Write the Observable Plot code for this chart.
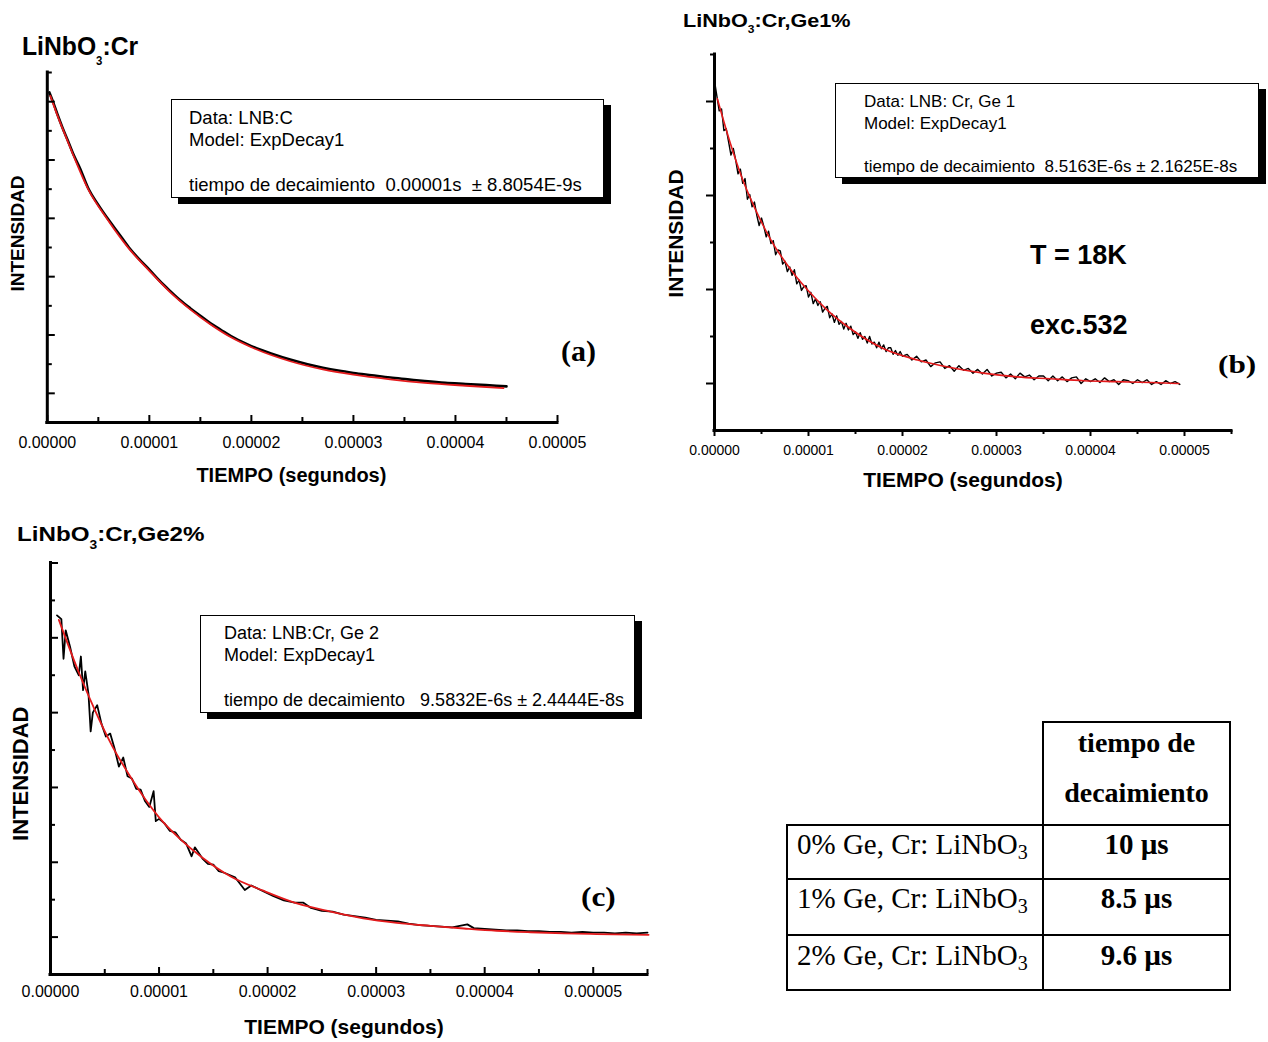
<!DOCTYPE html>
<html>
<head>
<meta charset="utf-8">
<script src="https://cdn.jsdelivr.net/npm/d3@7"></script>
<script src="https://cdn.jsdelivr.net/npm/@observablehq/plot@0.6"></script>
<style>
  body { margin: 0; background: #fff; }
  #page { position: relative; width: 1268px; height: 1042px; overflow: hidden; background: #fff; }
  #page svg { position: absolute; }
</style>
</head>
<body>
<div id="page"></div>
<script>
// ---- shared axis ticks (time in seconds, intensity in arbitrary units) ----
const xMajor = [0, 0.00001, 0.00002, 0.00003, 0.00004, 0.00005];
const xMinorA = [0.000005, 0.000015, 0.000025, 0.000035, 0.000045];
const xMinorBC = [0.000005, 0.000015, 0.000025, 0.000035, 0.000045, 0.000055];
const yMajorA = [0, 1, 2, 3, 4, 5];
const yMinorA = [0.5, 1.5, 2.5, 3.5, 4.5, 5.5];
const yMajorB = [0, 1, 2, 3];
const yMinorB = [0.5, 1.5, 2.5, 3.5];
const yMajorC = [0, 1, 2, 3, 4, 5];
const yMinorC = [0.5, 1.5, 2.5, 3.5, 4.5];

// ---- (a) LiNbO3:Cr : measured decay (µs) and ExpDecay1 fit ----
const dataA_t = [0.2, 0.6, 1.0, 1.5, 2.0, 2.6, 3.2, 4.0, 5.0, 5.9, 7.0, 8.0, 9.0, 10.0, 11.0, 12.0, 13.0, 14.0, 15.0, 16.0,
                 17.0, 18.0, 19.0, 20.0, 22.0, 23.8, 25.5, 27.0, 28.5, 30.0, 31.8, 33.6, 35.3, 37.0, 39.0, 41.0, 43.0, 45.0];
const dataA_v = [5.16, 4.98, 4.78, 4.55, 4.34, 4.08, 3.86, 3.52, 3.23, 3.00, 2.74, 2.50, 2.30, 2.12, 1.93, 1.76, 1.60, 1.46, 1.33, 1.20,
                 1.09, 0.98, 0.89, 0.81, 0.68, 0.58, 0.50, 0.44, 0.39, 0.35, 0.31, 0.27, 0.24, 0.21, 0.18, 0.16, 0.14, 0.12];
const fitA_t = [0.3, 1, 2, 2.6, 4, 5.9, 8, 10, 12, 14, 16, 18, 20, 23.8, 27, 30, 33.6, 37, 41, 44.7];
const fitA_v = [5.10, 4.76, 4.32, 4.06, 3.50, 2.98, 2.48, 2.10, 1.74, 1.44, 1.18, 0.96, 0.79, 0.55, 0.41, 0.32, 0.24, 0.18, 0.13, 0.09];

// ---- (b) LiNbO3:Cr,Ge1% ----
const dataB_t = [0, 0.25, 0.5, 0.75, 1, 1.25, 1.5, 1.75, 2, 2.25, 2.5, 2.75, 3, 3.25, 3.5, 3.75, 4, 4.25, 4.5, 4.75,
                 5, 5.25, 5.5, 5.75, 6, 6.25, 6.5, 6.75, 7, 7.25, 7.5, 7.75, 8, 8.25, 8.5, 8.75, 9, 9.25, 9.5, 9.75,
                 10, 10.25, 10.5, 10.75, 11, 11.25, 11.5, 11.75, 12, 12.25, 12.5, 12.75, 13, 13.25, 13.5, 13.75, 14, 14.25, 14.5, 14.75,
                 15, 15.25, 15.5, 15.75, 16, 16.25, 16.5, 16.75, 17, 17.25, 17.5, 17.75, 18, 18.25, 18.5, 18.75, 19, 19.25, 19.5, 19.75,
                 20, 20.5, 21, 21.5, 22, 22.5, 23, 23.5, 24, 24.5, 25, 25.5, 26, 26.5, 27, 27.5, 28, 28.5, 29, 29.5,
                 30, 30.5, 31, 31.5, 32, 32.5, 33, 33.5, 34, 34.5, 35, 35.5, 36, 36.5, 37, 37.5, 38, 38.5, 39, 39.5,
                 40, 40.5, 41, 41.5, 42, 42.5, 43, 43.5, 44, 44.5, 45, 45.5, 46, 46.5, 47, 47.5, 48, 48.5, 49, 49.5];
const dataB_v = [3.22, 3.06, 2.90, 2.92, 2.69, 2.71, 2.57, 2.43, 2.50, 2.38, 2.23, 2.28, 2.13, 2.18, 1.96, 2.01, 1.88, 1.93, 1.79, 1.68,
                 1.76, 1.67, 1.56, 1.62, 1.49, 1.52, 1.37, 1.42, 1.41, 1.27, 1.30, 1.19, 1.24, 1.15, 1.21, 1.06, 1.10, 0.99, 1.03, 1.04,
                 0.92, 0.97, 0.85, 0.90, 0.83, 0.87, 0.76, 0.80, 0.82, 0.70, 0.74, 0.65, 0.72, 0.63, 0.66, 0.58, 0.64, 0.57, 0.61, 0.52,
                 0.55, 0.48, 0.54, 0.47, 0.50, 0.43, 0.50, 0.42, 0.44, 0.38, 0.44, 0.37, 0.41, 0.34, 0.38, 0.38, 0.31, 0.35, 0.30, 0.34,
                 0.29, 0.31, 0.25, 0.29, 0.23, 0.25, 0.18, 0.22, 0.23, 0.16, 0.19, 0.13, 0.19, 0.14, 0.16, 0.11, 0.15, 0.10, 0.15, 0.08,
                 0.11, 0.12, 0.06, 0.10, 0.05, 0.11, 0.07, 0.09, 0.04, 0.08, 0.08, 0.03, 0.08, 0.03, 0.07, 0.02, 0.06, 0.07, 0.00, 0.05,
                 0.02, 0.05, 0.01, 0.06, 0.02, 0.04, -0.01, 0.04, 0.03, 0.00, 0.04, 0.01, 0.04, -0.01, 0.02, -0.01, 0.03, 0.00, 0.02, -0.01];
const fitB_t = [0.3, 1.7, 2.95, 4.36, 6.1, 8.2, 10.7, 11.8, 14.5, 18.0, 21.6, 25.1, 28.6, 32.2, 35.7, 39.3, 42.8, 46.4, 49.4];
const fitB_v = [3.03, 2.55, 2.18, 1.85, 1.51, 1.20, 0.91, 0.80, 0.58, 0.37, 0.25, 0.17, 0.11, 0.07, 0.05, 0.03, 0.02, 0.01, 0.0];

// ---- (c) LiNbO3:Cr,Ge2% ----
const dataC_t = [0.6, 1.0, 1.2, 1.4, 1.8, 2.2, 2.6, 2.8, 3.0, 3.2, 3.5, 3.7, 3.9, 4.3, 4.7, 5.1, 5.5, 5.9, 6.3, 6.7,
                 7.1, 7.5, 7.9, 8.3, 8.7, 9.1, 9.5, 9.7, 10.0, 10.5, 11.0, 11.5, 12.0, 12.5, 13.0, 13.3, 14.0, 14.5, 15.0, 15.5,
                 16.0, 17.0, 17.9, 18.5, 19.5, 20.5, 21.5, 22.5, 23.3, 24.0, 25.0, 26.0, 27.0, 28.0, 29.0, 30.0, 31.0, 32.0, 33.0, 34.0,
                 35.0, 36.0, 37.0, 38.4, 39.0, 40.0, 41.0, 42.0, 43.0, 44.0, 45.0, 46.0, 47.0, 48.0, 49.0, 50.0, 51.0, 52.0, 53.0, 54.0, 55.0];
const dataC_v = [4.30, 4.25, 3.72, 4.10, 3.88, 3.62, 3.50, 3.75, 3.30, 3.55, 3.25, 2.75, 3.00, 3.10, 2.85, 2.68, 2.72, 2.52, 2.28, 2.40,
                 2.15, 2.12, 1.98, 1.97, 1.82, 1.74, 1.95, 1.55, 1.58, 1.52, 1.42, 1.40, 1.30, 1.25, 1.08, 1.20, 1.05, 0.98, 0.97, 0.88,
                 0.86, 0.80, 0.63, 0.69, 0.62, 0.55, 0.49, 0.46, 0.46, 0.39, 0.35, 0.34, 0.30, 0.28, 0.26, 0.23, 0.22, 0.21, 0.18, 0.16,
                 0.15, 0.14, 0.13, 0.17, 0.12, 0.11, 0.10, 0.09, 0.09, 0.08, 0.08, 0.07, 0.07, 0.06, 0.07, 0.06, 0.06, 0.05, 0.06, 0.05, 0.06];
const fitC_t = [0.77, 2.6, 4.1, 5.7, 7.2, 8.7, 10.3, 11.8, 14.0, 16.6, 19.6, 22.7, 25.8, 28.8, 31.9, 35.0, 38.1, 41.1, 44.2, 47.3, 50.3, 55.1];
const fitC_v = [4.24, 3.54, 3.03, 2.55, 2.18, 1.85, 1.55, 1.33, 1.06, 0.81, 0.62, 0.45, 0.34, 0.25, 0.19, 0.15, 0.115, 0.085, 0.065, 0.05, 0.04, 0.03];

// ---- summary table ----
const sampleLabels = ["0% Ge, Cr: LiNbO", "1% Ge, Cr: LiNbO", "2% Ge, Cr: LiNbO"];
const decayTimes = ["10 µs", "8.5 µs", "9.6 µs"];

const SANS = '"Liberation Sans", Arial, Helvetica, sans-serif';
const SERIF = '"Liberation Serif", "Times New Roman", serif';
const RED = "#e41a1c";
const page = document.getElementById("page");
const fmt = d3.format(".5f");

function decayPanel(c) {
  const obs = c.dataT.map((t, i) => ({t: t * 1e-6, v: c.dataV[i]}));
  const fit = c.fitT.map((t, i) => ({t: t * 1e-6, v: c.fitV[i]}));
  const dir = c.inward ? -1 : 1;
  const svg = Plot.plot({
    width: c.width, height: c.height,
    marginLeft: c.ml, marginRight: c.mr, marginTop: c.mt, marginBottom: c.mb,
    style: {fontFamily: SANS, background: "transparent", overflow: "visible", color: "#000"},
    x: {domain: c.xDomain, label: null},
    y: {domain: c.yDomain, label: null},
    marks: [
      Plot.line(obs, {x: "t", y: "v", stroke: "#000", strokeWidth: c.dataWidth, curve: c.dataCurve}),
      Plot.line(fit, {x: "t", y: "v", stroke: RED, strokeWidth: c.fitWidth, curve: "monotone-x"}),
      Plot.axisX({ticks: xMajor, tickSize: 0, tickPadding: c.labelGap, tickFormat: fmt, fontSize: c.tickFont, label: null}),
      Plot.axisX({ticks: xMajor, tickSize: dir * c.xTickMajor, tickFormat: () => "", strokeWidth: 2, label: null}),
      Plot.axisX({ticks: c.xMinor, tickSize: dir * c.xTickMinor, tickFormat: () => "", strokeWidth: 2, label: null}),
      Plot.axisY({ticks: c.yMajor, tickSize: dir * c.yTickMajor, tickFormat: () => "", strokeWidth: 2, label: null}),
      Plot.axisY({ticks: c.yMinor, tickSize: dir * c.yTickMinor, tickFormat: () => "", strokeWidth: 2, label: null}),
      Plot.ruleX([c.xDomain[0]], {strokeWidth: 3, strokeLinecap: "square"}),
      Plot.ruleY([c.yDomain[0]], {strokeWidth: 3, strokeLinecap: "square"}),
      Plot.text(["TIEMPO (segundos)"], {text: d => d, frameAnchor: "bottom", textAnchor: "middle", lineAnchor: "middle",
        dx: c.xtDx, dy: c.xtDy, fontSize: c.titleFont, fontWeight: "bold"}),
      Plot.text(["INTENSIDAD"], {text: d => d, frameAnchor: "left", textAnchor: "middle", lineAnchor: "middle",
        rotate: -90, dx: c.ytDx, dy: c.ytDy, fontSize: c.yTitleFont, fontWeight: "bold"})
    ]
  });
  svg.style.left = c.left + "px";
  svg.style.top = c.top + "px";
  page.appendChild(svg);
}

decayPanel({
  dataT: dataA_t, dataV: dataA_v, fitT: fitA_t, fitV: fitA_v, dataCurve: "monotone-x",
  left: 0, top: 60, width: 610, height: 442, ml: 46.8, mr: 53, mt: 12, mb: 80,
  xDomain: [0, 0.00005], yDomain: [-0.5, 5.5], xMinor: xMinorA, yMajor: yMajorA, yMinor: yMinorA,
  inward: true, xTickMajor: 7, xTickMinor: 5, yTickMajor: 8, yTickMinor: 5,
  dataWidth: 2.6, fitWidth: 1.8, tickFont: 16, labelGap: 14,
  titleFont: 20, xtDx: -11, xtDy: 53, yTitleFont: 19, ytDx: -29, ytDy: -14
});

decayPanel({
  dataT: dataB_t, dataV: dataB_v, fitT: fitB_t, fitV: fitB_v, dataCurve: "linear",
  left: 640, top: 40, width: 621, height: 460, ml: 74, mr: 30, mt: 14, mb: 70,
  xDomain: [0, 0.000055], yDomain: [-0.5, 3.5], xMinor: xMinorBC, yMajor: yMajorB, yMinor: yMinorB,
  inward: false, xTickMajor: 6, xTickMinor: 4, yTickMajor: 8, yTickMinor: 4,
  dataWidth: 1.4, fitWidth: 1.6, tickFont: 14, labelGap: 15,
  titleFont: 21, xtDx: -10, xtDy: 50, yTitleFont: 21, ytDx: -38, ytDy: -9
});

decayPanel({
  dataT: dataC_t, dataV: dataC_v, fitT: fitC_t, fitV: fitC_v, dataCurve: "linear",
  left: 0, top: 550, width: 670, height: 490, ml: 50, mr: 23, mt: 12.5, mb: 66,
  xDomain: [0, 0.000055], yDomain: [-0.5, 5.0], xMinor: xMinorBC, yMajor: yMajorC, yMinor: yMinorC,
  inward: true, xTickMajor: 7, xTickMinor: 5, yTickMajor: 8, yTickMinor: 5,
  dataWidth: 1.8, fitWidth: 1.8, tickFont: 16, labelGap: 11,
  titleFont: 21, xtDx: -5, xtDy: 53, yTitleFont: 22, ytDx: -30, ytDy: 5
});

// ---- text placed by baseline ----
function put(html, {x, base, size, weight = "normal", family = SANS, align = "left", sx = 1}) {
  const asc = family === SERIF ? 0.8375 : 0.846;
  const el = document.createElement("div");
  el.innerHTML = html;
  const s = el.style;
  s.position = "absolute"; s.whiteSpace = "pre"; s.lineHeight = "1";
  s.fontSize = size + "px"; s.fontWeight = weight; s.fontFamily = family; s.color = "#000";
  s.top = (base - asc * size) + "px";
  if (align === "center") {
    s.left = (x - 300) + "px"; s.width = "600px"; s.textAlign = "center"; s.transformOrigin = "50% 50%";
  } else {
    s.left = x + "px"; s.transformOrigin = "0 50%";
  }
  if (sx !== 1) s.transform = `scaleX(${sx})`;
  page.appendChild(el);
}
const sub = (size, drop) => `<span style="font-size:${size}px;position:relative;top:${drop}px">3</span>`;

function fitBox(x, y, w, h, lines, size, sx = 1) {
  const b = document.createElement("div");
  Object.assign(b.style, {position: "absolute", left: x + "px", top: y + "px", width: w + "px", height: h + "px",
    boxSizing: "border-box", border: "1.5px solid #000", background: "#fff", boxShadow: "7px 6px 0 #000"});
  page.appendChild(b);
  lines.forEach(([txt, bx, base]) => put(txt, {x: bx, base, size, sx}));
}

// panel titles
put(`LiNbO${sub(12, 10)}:Cr`, {x: 22, base: 55, size: 26, weight: "bold", sx: 0.95});
put(`LiNbO${sub(10, 6)}:Cr,Ge1%`, {x: 683, base: 27, size: 18, weight: "bold", sx: 1.2});
put(`LiNbO${sub(12, 8)}:Cr,Ge2%`, {x: 17, base: 541, size: 21, weight: "bold", sx: 1.15});

// fit result boxes
fitBox(171, 99, 433, 99, [
  ["Data: LNB:C", 189, 125], ["Model: ExpDecay1", 189, 146.5],
  ["tiempo de decaimiento  0.00001s  ± 8.8054E-9s", 189, 191.5]], 18.5);
fitBox(835, 83, 424, 95, [
  ["Data: LNB: Cr, Ge 1", 864, 107], ["Model: ExpDecay1", 864, 129.5],
  ["tiempo de decaimiento  8.5163E-6s ± 2.1625E-8s", 864, 172]], 17);
fitBox(200, 615, 435, 98, [
  ["Data: LNB:Cr, Ge 2", 224, 639], ["Model: ExpDecay1", 224, 661],
  ["tiempo de decaimiento   9.5832E-6s ± 2.4444E-8s", 224, 706.5]], 18);

// panel notes
put("T = 18K", {x: 1030, base: 265, size: 27, weight: "bold"});
put("exc.532", {x: 1030, base: 335, size: 27, weight: "bold"});
put("(a)", {x: 561, base: 361, size: 30, weight: "bold", family: SERIF});
put("(b)", {x: 1218, base: 373, size: 25, weight: "bold", family: SERIF, sx: 1.25});
put("(c)", {x: 581, base: 906, size: 28, weight: "bold", family: SERIF, sx: 1.12});

// ---- summary table ----
function line(x1, y1, x2, y2) {
  const d = document.createElement("div");
  Object.assign(d.style, {position: "absolute", background: "#000",
    left: (Math.min(x1, x2) - 1) + "px", top: (Math.min(y1, y2) - 1) + "px",
    width: (Math.abs(x2 - x1) + 2) + "px", height: (Math.abs(y2 - y1) + 2) + "px"});
  page.appendChild(d);
}
const tblX = [787, 1043, 1230];
const tblY = [722, 825, 879, 935, 990];
line(tblX[1], tblY[0], tblX[2], tblY[0]);
for (let i = 1; i < tblY.length; i++) line(tblX[0], tblY[i], tblX[2], tblY[i]);
line(tblX[0], tblY[1], tblX[0], tblY[4]);
line(tblX[1], tblY[0], tblX[1], tblY[4]);
line(tblX[2], tblY[0], tblX[2], tblY[4]);

const colMid = (tblX[1] + tblX[2]) / 2;
put("tiempo de", {x: colMid, base: 752, size: 28, weight: "bold", family: SERIF, align: "center"});
put("decaimiento", {x: colMid, base: 802, size: 28, weight: "bold", family: SERIF, align: "center"});
const rowBase = [854, 908, 965];
sampleLabels.forEach((s, i) => {
  put(`${s}<span style="font-size:20px;position:relative;top:5px">3</span>`,
      {x: 797, base: rowBase[i], size: 29, family: SERIF});
  put(decayTimes[i], {x: colMid, base: rowBase[i], size: 29, weight: "bold", family: SERIF, align: "center"});
});
</script>
</body>
</html>
